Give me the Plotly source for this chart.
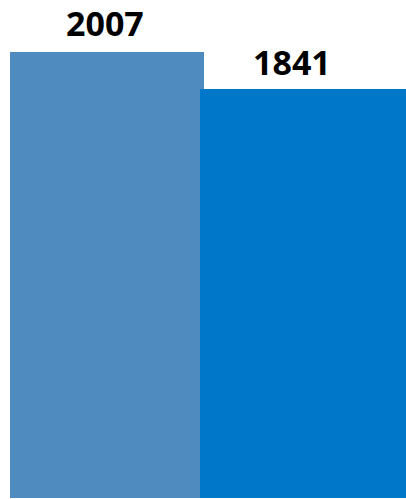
import plotly.graph_objects as go

categories = ["A", "B"]
values = [2007, 1841]
labels = ["2007", "1841"]
colors = ["#4F8BBE", "#0077C8"]
bar_widths = [0.99, 1.05]
label_xshift = [-2, -11]
label_yshift = [4, 2]

fig = go.Figure()
fig.add_trace(go.Bar(
    x=[0, 1], y=values, width=bar_widths,
    marker=dict(color=colors, line=dict(width=0)),
    hoverinfo="skip",
))
for i, (v, lab) in enumerate(zip(values, labels)):
    fig.add_annotation(
        x=i, y=v, text=f"<b>{lab}</b>", showarrow=False,
        xanchor="center", yanchor="bottom",
        xshift=label_xshift[i], yshift=label_yshift[i],
        font=dict(family="Open Sans", size=34, color="#000000"),
    )

fig.update_layout(
    width=406, height=499,
    margin=dict(l=10, r=0, t=0, b=1),
    paper_bgcolor="white", plot_bgcolor="white",
    showlegend=False, bargap=0,
    xaxis=dict(range=[-0.495, 1.526], visible=False, fixedrange=True),
    yaxis=dict(range=[0, 2241], visible=False, fixedrange=True),
)
fig.write_html(
    "out.html",
    config={"displayModeBar": False},
    post_script="document.body.style.margin='0';document.body.style.overflow='hidden';",
)
